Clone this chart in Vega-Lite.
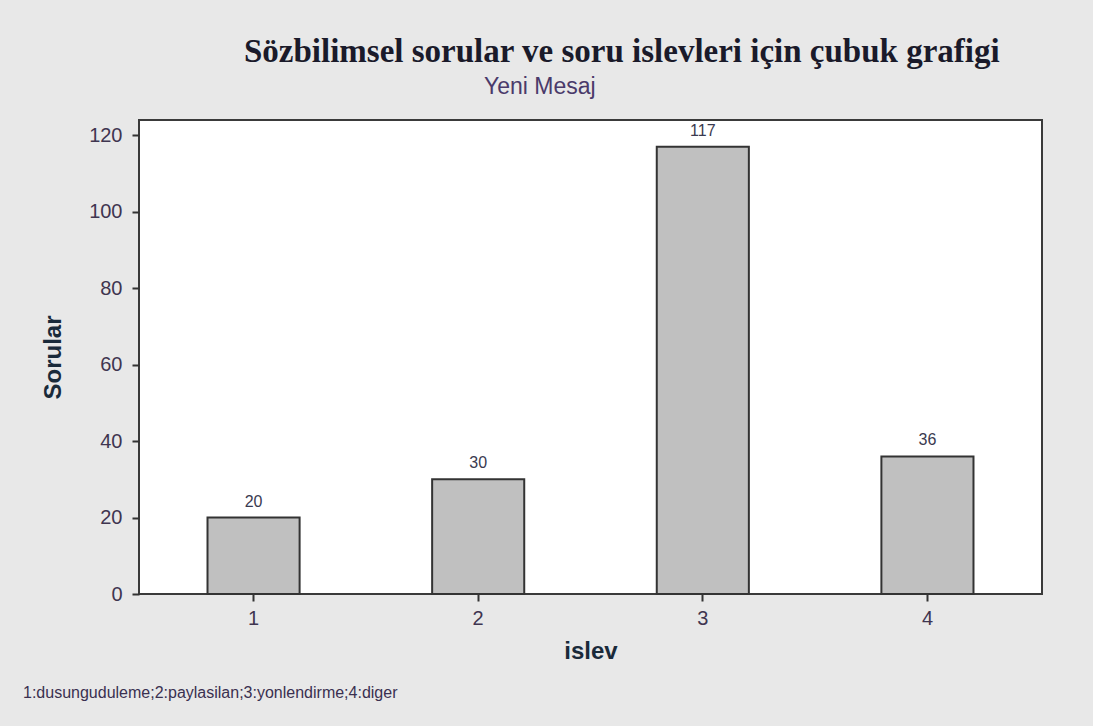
{
  "$schema": "https://vega.github.io/schema/vega-lite/v6.json",
  "autosize": "pad",
  "padding": {"left": 22, "top": 36, "right": 51, "bottom": 26},
  "background": "#e8e8e8",
  "config": {
    "view": {"fill": "white", "stroke": "#3a3a3a", "strokeWidth": 2},
    "concat": {"spacing": 0}
  },
  "title": {
    "text": "Sözbilimsel sorular ve soru islevleri için çubuk grafigi",
    "font": "Liberation Serif",
    "fontSize": 33,
    "fontWeight": "bold",
    "color": "#1a1a2a",
    "anchor": "start",
    "frame": "group",
    "dx": 105,
    "offset": 7
  },
  "vconcat": [
    {
      "title": {
        "text": "Yeni Mesaj",
        "font": "Liberation Sans",
        "fontSize": 23,
        "fontWeight": "normal",
        "color": "#4a3a6a",
        "anchor": "start",
        "frame": "group",
        "dx": 345,
        "offset": 20
      },
      "vconcat": [
        {
          "title": {
            "text": "1:dusunguduleme;2:paylasilan;3:yonlendirme;4:diger",
            "orient": "bottom",
            "anchor": "start",
            "frame": "group",
            "dx": -116,
            "offset": 22,
            "font": "Liberation Sans",
            "fontSize": 16,
            "fontWeight": "normal",
            "color": "#3a3050"
          },
          "width": 903,
          "height": 474,
          "data": {
            "values": [
              {"islev": "1", "Sorular": 20},
              {"islev": "2", "Sorular": 30},
              {"islev": "3", "Sorular": 117},
              {"islev": "4", "Sorular": 36}
            ]
          },
          "encoding": {
            "x": {
              "field": "islev",
              "type": "ordinal",
              "scale": {"paddingInner": 0.59, "paddingOuter": 0.305},
              "axis": {
                "title": "islev",
                "labelAngle": 0,
                "labelFont": "Liberation Sans",
                "labelFontSize": 20,
                "labelColor": "#3f3550",
                "labelPadding": 7,
                "tickSize": 7,
                "tickWidth": 2,
                "tickColor": "#333333",
                "domain": false,
                "titleFont": "Liberation Sans",
                "titleFontSize": 24,
                "titleFontWeight": "bold",
                "titleColor": "#1a2a3a",
                "titlePadding": 11
              }
            },
            "y": {
              "field": "Sorular",
              "type": "quantitative",
              "scale": {"domain": [0, 124], "nice": false},
              "axis": {
                "title": "Sorular",
                "values": [0, 20, 40, 60, 80, 100, 120],
                "grid": false,
                "labelFont": "Liberation Sans",
                "labelFontSize": 20,
                "labelColor": "#3f3550",
                "labelPadding": 10,
                "tickSize": 7,
                "tickWidth": 2,
                "tickColor": "#333333",
                "domain": false,
                "titleFont": "Liberation Sans",
                "titleFontSize": 24,
                "titleFontWeight": "bold",
                "titleColor": "#1a2a3a",
                "titlePadding": 23
              }
            }
          },
          "layer": [
            {
              "mark": {"type": "bar", "fill": "#c0c0c0", "stroke": "#333333", "strokeWidth": 2}
            },
            {
              "mark": {"type": "text", "dy": -16, "baseline": "middle", "font": "Liberation Sans", "fontSize": 16, "color": "#3a3a50"},
              "encoding": {"text": {"field": "Sorular", "type": "quantitative"}}
            }
          ]
        }
      ]
    }
  ]
}
